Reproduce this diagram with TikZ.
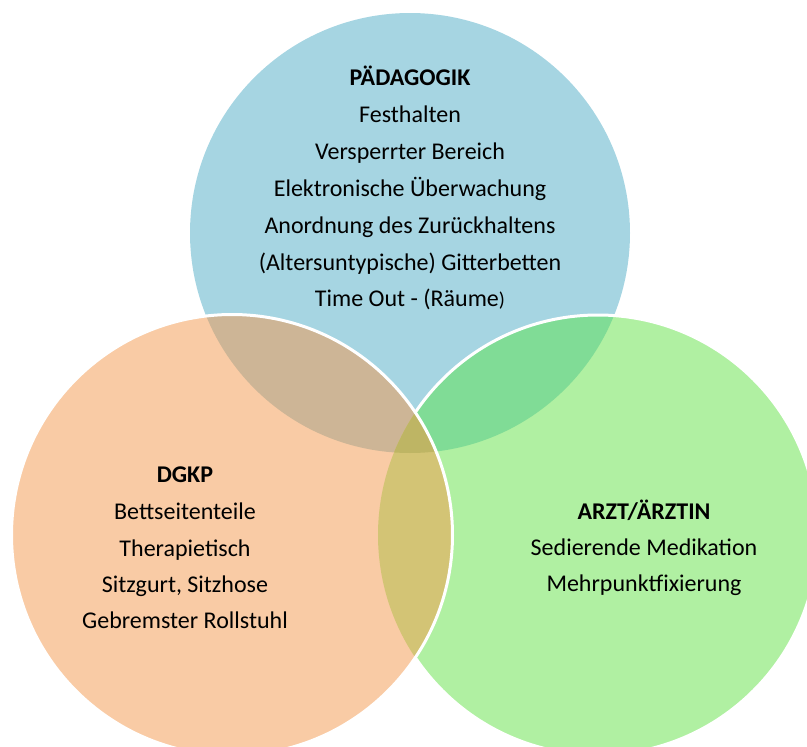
\documentclass[tikz,border=0pt]{standalone}
\usepackage{fontspec}
\setmainfont{Carlito}
\definecolor{cblue}{RGB}{166,213,226}
\definecolor{corange}{RGB}{249,203,165}
\definecolor{cgreen}{RGB}{176,240,162}
\definecolor{cbo}{RGB}{205,181,150}
\definecolor{cbg}{RGB}{128,220,150}
\definecolor{cog}{RGB}{211,196,117}
\definecolor{cbog}{RGB}{190,181,100}
\tikzset{
  lbl/.style={font=\fontsize{24}{28}\selectfont, anchor=base, inner sep=0pt},
  ttl/.style={lbl, font=\fontsize{24}{28}\selectfont\bfseries},
  rim/.style={draw=white, line width=3pt}
}
\begin{document}
\begin{tikzpicture}[x=1pt,y=-1pt]
\useasboundingbox (0,0) rectangle (807,747);
\begin{scope}
\clip (0,0) rectangle (807,747);
% base fills
\fill[cblue] (410,233) circle (220);
\fill[cgreen] (598,535) circle (220);
\begin{scope}
  \clip (410,233) circle (220);
  \fill[cbg] (598,535) circle (220);
\end{scope}
\draw[rim] (598,535) circle (220);
\fill[corange] (232,535) circle (220.5);
\begin{scope}
  \clip (232,535) circle (220.5);
  \begin{scope}
    \clip (410,233) circle (220);
    \fill[cbo] (232,535) circle (220.5);
  \end{scope}
  \begin{scope}
    \clip (598,535) circle (220);
    \fill[cog] (232,535) circle (220.5);
    \clip (410,233) circle (220);
    \fill[cbog] (232,535) circle (220.5);
  \end{scope}
\end{scope}
\draw[rim] (232,535) circle (220.5);
\end{scope}
% texts
\node[ttl] (p0) at (410,85) {PÄDAGOGIK};
\node[lbl] (p1) at (410,122) {Festhalten};
\node[lbl] (p2) at (410,159) {Versperrter Bereich};
\node[lbl] (p3) at (410,196) {Elektronische Überwachung};
\node[lbl] (p4) at (410,233) {Anordnung des Zurückhaltens};
\node[lbl] (p5) at (410,270) {(Altersuntypische) Gitterbetten};
\node[lbl] (p6) at (410,306) {Time Out - (Räume{\fontsize{20}{24}\selectfont )}};
\node[ttl] (d0) at (185,482) {DGKP};
\node[lbl] (d1) at (185,519) {Bettseitenteile};
\node[lbl] (d2) at (185,556) {Therapietisch};
\node[lbl] (d3) at (185,592) {Sitzgurt, Sitzhose};
\node[lbl] (d4) at (185,628) {Gebremster Rollstuhl};
\node[ttl] (a0) at (644,519) {ARZT/ÄRZTIN};
\node[lbl] (a1) at (644,555) {Sedierende Medikation};
\node[lbl] (a2) at (644,591) {Mehrpunktfixierung};
\end{tikzpicture}
\end{document}
